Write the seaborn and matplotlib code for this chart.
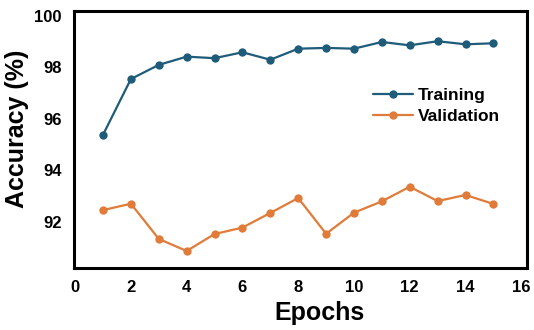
import matplotlib
matplotlib.use("Agg")
import matplotlib.pyplot as plt
import seaborn as sns
import pandas as pd

epochs = list(range(1, 16))
training = [95.38, 97.55, 98.10, 98.42, 98.36, 98.59, 98.30, 98.73, 98.76, 98.73, 98.99, 98.86, 99.02, 98.90, 98.94]
validation = [92.45, 92.70, 91.33, 90.86, 91.52, 91.77, 92.34, 92.92, 91.53, 92.35, 92.79, 93.36, 92.80, 93.04, 92.69]
x_ticks = [0, 2, 4, 6, 8, 10, 12, 14, 16]
y_ticks = [92, 94, 96, 98, 100]

sns.set_theme(style="white")
plt.rcParams['font.family'] = ['Liberation Sans', 'DejaVu Sans']
plt.rcParams['text.color'] = 'black'
plt.rcParams['xtick.color'] = 'black'
plt.rcParams['ytick.color'] = 'black'
plt.rcParams['axes.labelcolor'] = 'black'

df = pd.DataFrame({
    "Epoch": epochs * 2,
    "Accuracy": training + validation,
    "Series": ["Training"] * len(epochs) + ["Validation"] * len(epochs),
})

fig = plt.figure(figsize=(5.34, 3.30), dpi=100)
ax = fig.add_axes([0.1386, 0.188, 0.848, 0.779])
sns.lineplot(data=df, x="Epoch", y="Accuracy", hue="Series",
             palette={"Training": "#1F5C7A", "Validation": "#E07B39"},
             marker="o", markersize=6, markeredgewidth=0, linewidth=1.6, ax=ax)

ax.set_xlim(-0.04, 16.2)
ax.set_ylim(90.2, 100.2)
ax.set_xticks(x_ticks)
ax.set_yticks(y_ticks)
ax.tick_params(axis='both', length=0, labelsize=12, pad=9, labelcolor='black')
for lab in ax.get_xticklabels() + ax.get_yticklabels():
    lab.set_fontweight('bold')
ax.set_xlabel("Epochs", fontsize=18, fontweight='bold', va='center')
ax.set_ylabel("Accuracy (%)", fontsize=18, fontweight='bold', va='center')
ax.xaxis.set_label_coords(0.543, -0.175)
ax.yaxis.set_label_coords(-0.126, 0.54)
for s in ax.spines.values():
    s.set_linewidth(2.2)
    s.set_color('black')

leg = ax.legend(loc='center left', bbox_to_anchor=(0.625, 0.63), frameon=False,
                prop={'weight': 'bold', 'size': 12.5}, handlelength=2.3,
                handletextpad=0.3, labelspacing=0.35)
fig.savefig("out.png", dpi=100)
